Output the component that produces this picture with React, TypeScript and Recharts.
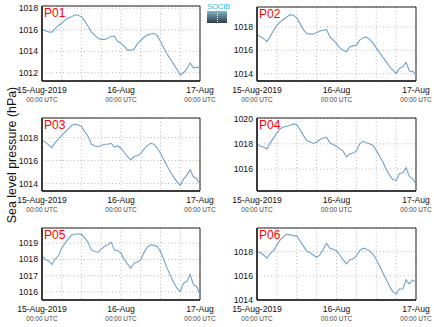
import React from "react";
import { LineChart, Line, XAxis, YAxis, CartesianGrid, ReferenceArea } from "recharts";

const hours = Array.from({ length: 49 }, (_, i) => i);
const gridHours = [0, 6, 12, 18, 24, 30, 36, 42, 48];
const xLabels: Record<number, string> = { 0: "15-Aug-2019", 24: "16-Aug", 48: "17-Aug" };
const xSubLabel = "00:00 UTC";
const yTitle = "Sea level pressure (hPa)";

const p01 = [1016.06, 1015.9, 1015.8, 1015.78, 1016.1, 1016.4, 1016.6, 1016.9, 1017.1, 1017.2, 1017.4, 1017.35, 1017.2, 1016.8, 1016.3, 1015.8, 1015.5, 1015.2, 1015.1, 1015.1, 1015.2, 1015.4, 1015.4, 1014.9, 1014.75, 1014.45, 1014.1, 1014.1, 1014.2, 1014.7, 1015.0, 1015.3, 1015.5, 1015.6, 1015.65, 1015.45, 1014.9, 1014.3, 1013.75, 1013.25, 1012.8, 1012.3, 1011.8, 1012.0, 1012.35, 1012.9, 1012.45, 1012.5, 1012.5];
const p02 = [1017.38, 1017.15, 1017.0, 1016.75, 1017.2, 1017.7, 1018.14, 1018.43, 1018.65, 1018.85, 1019.05, 1019.0, 1018.77, 1018.28, 1017.77, 1017.43, 1017.38, 1017.4, 1017.5, 1017.66, 1017.72, 1017.77, 1017.15, 1016.87, 1016.58, 1016.21, 1016.0, 1015.87, 1016.3, 1016.38, 1016.44, 1016.87, 1017.06, 1017.15, 1016.92, 1016.64, 1016.21, 1015.8, 1015.4, 1015.03, 1014.6, 1014.3, 1014.03, 1014.45, 1014.6, 1014.97, 1014.23, 1014.2, 1013.9];
const p03 = [1017.8, 1017.6, 1017.36, 1017.12, 1017.56, 1017.88, 1018.18, 1018.47, 1018.76, 1019.05, 1019.17, 1019.1, 1018.96, 1018.5, 1018.1, 1017.42, 1017.27, 1017.2, 1017.3, 1017.42, 1017.42, 1017.5, 1017.17, 1017.27, 1017.07, 1016.7, 1016.35, 1016.05, 1016.35, 1016.44, 1016.6, 1017.0, 1017.3, 1017.5, 1017.42, 1017.07, 1016.64, 1016.06, 1015.52, 1015.0, 1014.58, 1014.15, 1013.85, 1014.38, 1014.73, 1015.2, 1014.58, 1014.44, 1013.9];
const p04 = [1018.0, 1017.81, 1017.75, 1017.6, 1018.08, 1018.47, 1018.87, 1019.2, 1019.34, 1019.4, 1019.47, 1019.58, 1019.52, 1019.12, 1018.67, 1018.26, 1018.16, 1018.03, 1018.13, 1018.34, 1018.47, 1018.53, 1018.08, 1017.95, 1017.81, 1017.6, 1017.42, 1016.94, 1017.2, 1017.28, 1017.42, 1018.0, 1018.2, 1018.08, 1018.0, 1017.87, 1017.48, 1017.03, 1016.58, 1015.97, 1015.52, 1015.17, 1015.1, 1015.63, 1015.7, 1016.1, 1015.42, 1015.23, 1014.8];
const p05 = [1018.22, 1017.98, 1017.92, 1017.68, 1018.02, 1018.22, 1018.69, 1019.0, 1019.25, 1019.5, 1019.56, 1019.56, 1019.54, 1019.33, 1019.03, 1018.58, 1018.48, 1018.44, 1018.63, 1018.79, 1018.9, 1019.06, 1018.58, 1018.54, 1018.38, 1018.0, 1017.71, 1017.46, 1017.77, 1017.84, 1017.98, 1018.43, 1018.75, 1018.9, 1018.86, 1018.79, 1018.48, 1017.98, 1017.46, 1017.0, 1016.58, 1016.23, 1016.02, 1016.54, 1016.64, 1017.08, 1016.44, 1016.33, 1015.82];
const p06 = [1018.0, 1017.92, 1017.72, 1017.45, 1017.86, 1018.06, 1018.55, 1018.97, 1019.24, 1019.43, 1019.38, 1019.32, 1019.3, 1018.88, 1018.47, 1018.0, 1017.92, 1017.72, 1017.53, 1017.72, 1018.19, 1018.69, 1018.28, 1018.19, 1018.06, 1017.72, 1017.31, 1016.98, 1017.31, 1017.39, 1017.64, 1018.08, 1018.28, 1018.19, 1018.06, 1017.78, 1017.37, 1016.81, 1016.26, 1015.71, 1015.16, 1014.69, 1014.5, 1014.91, 1014.91, 1015.66, 1015.33, 1015.66, 1015.43];

const stationNames = ["P01", "P02", "P03", "P04", "P05", "P06"];
const stationSeries = [p01, p02, p03, p04, p05, p06];
const yTicks = [
  [1012, 1014, 1016, 1018],
  [1014, 1016, 1018],
  [1014, 1016, 1018],
  [1016, 1018, 1020],
  [1016, 1017, 1018, 1019],
  [1014, 1016, 1018],
];
const yDomains: [number, number][] = [
  [1011.23, 1018.21],
  [1013.38, 1019.7],
  [1013.35, 1019.7],
  [1014.26, 1020.05],
  [1015.5, 1019.93],
  [1014.0, 1019.95],
];

const layout = [
  { left: 0, top: 0, w: 217, h: 110, yw: 42, mt: 6, mr: 17, xh: 29 },
  { left: 217, top: 0, w: 217, h: 110, yw: 40, mt: 7, mr: 18, xh: 29 },
  { left: 0, top: 110, w: 217, h: 110, yw: 42, mt: 8, mr: 17, xh: 29 },
  { left: 217, top: 110, w: 217, h: 110, yw: 40, mt: 8, mr: 18, xh: 29 },
  { left: 0, top: 220, w: 217, h: 107, yw: 42, mt: 8, mr: 17, xh: 27 },
  { left: 217, top: 220, w: 217, h: 107, yw: 40, mt: 8, mr: 18, xh: 27 },
];

const FONT = "'Liberation Sans', Arial, Helvetica, sans-serif";
const LINE = "#74a0c9";

const XTick = (props: any) => {
  const { x, y, payload } = props;
  const lab = xLabels[payload.value];
  if (!lab) return null;
  return (
    <g>
      <text x={x} y={y + 11.5} textAnchor="middle" fontSize={8.6} fill="#111" fontFamily={FONT}>
        {lab}
      </text>
      <text x={x} y={y + 20.5} textAnchor="middle" fontSize={6.5} fill="#444" fontFamily={FONT}>
        {xSubLabel}
      </text>
    </g>
  );
};

const YTick = (props: any) => {
  const { x, y, payload } = props;
  return (
    <text x={x} y={y} dy={3} textAnchor="end" fontSize={8.7} fill="#111" fontFamily={FONT}>
      {payload.value}
    </text>
  );
};

const Panel = ({ idx }: { idx: number }) => {
  const L = layout[idx];
  const series = stationSeries[idx];
  const data = hours.map((h, i) => ({ h, v: series[i] }));
  const dom = yDomains[idx];
  return (
    <div style={{ position: "absolute", left: L.left, top: L.top, width: L.w, height: L.h }}>
      <LineChart
        width={L.w}
        height={L.h}
        data={data}
        margin={{ top: L.mt, right: L.mr, bottom: 0, left: 0 }}
      >
        <CartesianGrid stroke="#b8b8b8" strokeDasharray="1 2.5" />
        <XAxis
          dataKey="h"
          type="number"
          domain={[0, 48]}
          ticks={gridHours}
          interval={0}
          height={L.xh}
          tickSize={0}
          tickMargin={0}
          tick={<XTick />}
          axisLine={{ stroke: "#222", strokeWidth: 1.5 }}
          allowDataOverflow
        />
        <YAxis
          type="number"
          domain={dom}
          ticks={yTicks[idx]}
          interval={0}
          width={L.yw}
          tickSize={0}
          tickMargin={4}
          tick={<YTick />}
          axisLine={{ stroke: "#222", strokeWidth: 1.5 }}
          allowDataOverflow
        />
        <ReferenceArea
          x1={0}
          x2={48}
          y1={dom[0]}
          y2={dom[1]}
          fill="none"
          fillOpacity={0}
          stroke="#222"
          strokeWidth={1}
        />
        <Line
          type="linear"
          dataKey="v"
          stroke={LINE}
          strokeWidth={1.1}
          dot={false}
          isAnimationActive={false}
        />
      </LineChart>
      <div
        style={{
          position: "absolute",
          left: L.yw + 2,
          top: L.mt + 1,
          color: "#ff0000",
          fontFamily: FONT,
          fontSize: 12,
          lineHeight: "13px",
        }}
      >
        {stationNames[idx]}
      </div>
    </div>
  );
};

export default function App() {
  return (
    <div
      style={{
        position: "absolute",
        left: 0,
        top: 0,
        width: 434,
        height: 327,
        background: "#fff",
        overflow: "hidden",
        fontFamily: FONT,
      }}
    >
      {stationNames.map((_, i) => (
        <Panel key={i} idx={i} />
      ))}
      <svg
        width={434}
        height={327}
        style={{ position: "absolute", left: 0, top: 0, pointerEvents: "none" }}
      >
        <text
          transform="translate(12,155) rotate(-90)"
          textAnchor="middle"
          dominantBaseline="central"
          fontSize={12.4}
          fill="#111"
          fontFamily={FONT}
        >
          {yTitle}
        </text>
      </svg>
      <div style={{ position: "absolute", left: 207, top: 3, width: 21 }}>
        <div
          style={{
            fontSize: 8,
            lineHeight: "8px",
            color: "#3fb8dc",
            fontFamily: FONT,
            letterSpacing: -0.4,
            textAlign: "center",
          }}
        >
          SOCIB
        </div>
        <div
          style={{
            height: 12,
            width: 20,
            background: "linear-gradient(#7fb6c9, #2e3b45)",
            position: "relative",
          }}
        >
          <div
            style={{
              position: "absolute",
              left: 10,
              top: 2,
              height: 9,
              borderLeft: "1px dotted #e8f4f8",
            }}
          />
        </div>
      </div>
    </div>
  );
}
